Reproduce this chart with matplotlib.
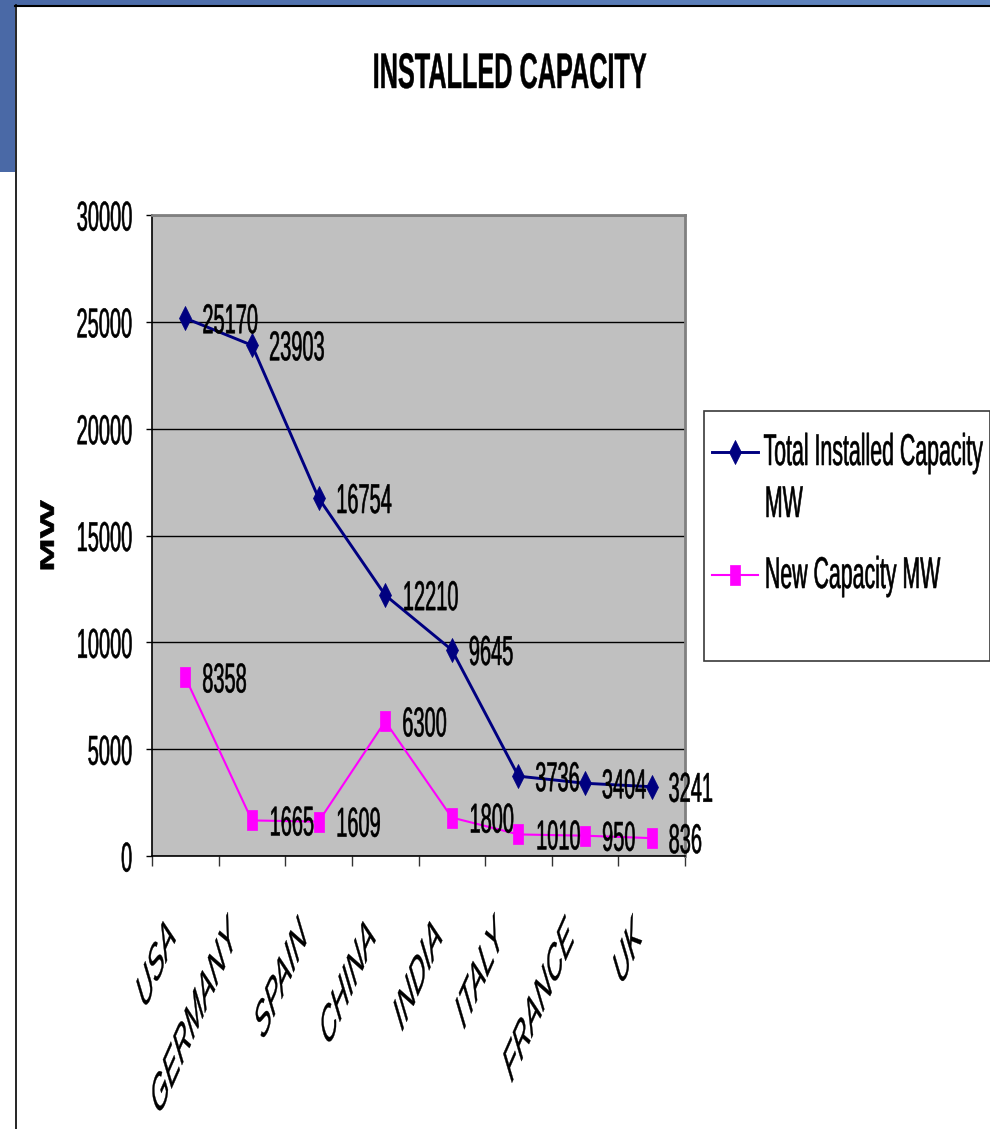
import matplotlib
matplotlib.use("Agg")
import matplotlib.pyplot as plt
import numpy as np
from matplotlib.patheffects import AbstractPathEffect
from matplotlib.transforms import Affine2D, ScaledTranslation
from matplotlib.path import Path
from matplotlib.patches import Rectangle
from matplotlib.colors import LinearSegmentedColormap

plt.rcParams['font.family'] = ['Liberation Sans', 'DejaVu Sans']

# ---- data ----
countries = ["USA", "GERMANY", "SPAIN", "CHINA", "INDIA", "ITALY", "FRANCE", "UK"]
total_mw = [25170, 23903, 16754, 12210, 9645, 3736, 3404, 3241]
new_mw = [8358, 1665, 1609, 6300, 1800, 1010, 950, 836]
y_ticks = [0, 5000, 10000, 15000, 20000, 25000, 30000]
series_names = ["Total Installed Capacity", "New Capacity MW"]

NAVY = "#000080"
MAGENTA = "#FF00FF"
SX = 0.48  # horizontal compression of the lettering
STROKE = 0.4


class Squeeze(AbstractPathEffect):
    """Draw text glyphs compressed horizontally about one edge of the ink,
    with a thin outline in the text colour to keep the strokes solid."""

    def __init__(self, sx=SX, pivot="left", stroke=STROKE):
        super().__init__()
        self.sx = sx
        self.pivot = pivot
        self.stroke = stroke

    def draw_path(self, renderer, gc, tpath, affine, rgbFace=None):
        ext = affine.transform_path(tpath).get_extents()
        x0 = {"left": ext.x0, "right": ext.x1,
              "center": 0.5 * (ext.x0 + ext.x1)}[self.pivot]
        aff = affine + Affine2D().translate(-x0, 0).scale(self.sx, 1).translate(x0, 0)
        if self.stroke and rgbFace is not None:
            gc2 = renderer.new_gc()
            gc2.copy_properties(gc)
            gc2.set_linewidth(self.stroke)
            gc2.set_foreground(rgbFace)
            gc2.set_joinstyle("round")
            renderer.draw_path(gc2, tpath, aff, rgbFace)
            gc2.restore()
        else:
            renderer.draw_path(gc, tpath, aff, rgbFace)


def squeeze(t, pivot="left", sx=SX, stroke=STROKE):
    t.set_path_effects([Squeeze(sx=sx, pivot=pivot, stroke=stroke)])
    return t


# narrow markers
diamond = Path([(0, 1), (0.5, 0), (0, -1), (-0.5, 0), (0, 1)],
               [Path.MOVETO, Path.LINETO, Path.LINETO, Path.LINETO, Path.CLOSEPOLY])
tall_rect = Path([(-0.5, -1), (0.5, -1), (0.5, 1), (-0.5, 1), (-0.5, -1)],
                 [Path.MOVETO, Path.LINETO, Path.LINETO, Path.LINETO, Path.CLOSEPOLY])
DIA_MS = 17.3
RECT_MS = 14.4

W, H = 990, 1129
fig = plt.figure(figsize=(W / 100, H / 100), dpi=100)
fig.patch.set_facecolor("white")

# ---- page background (pixel coordinates) ----
bg = fig.add_axes([0, 0, 1, 1], zorder=0)
band = LinearSegmentedColormap.from_list("band", ["#4A69A6", "#6388C1"])
bg.imshow(np.linspace(0, 1, 256)[None, :], extent=(0, W, 5, 0), aspect="auto", cmap=band)
bg.add_patch(Rectangle((0, 0), 15, 172, facecolor="#4A69A6", edgecolor="none"))
bg.plot([15.5, 15.5], [5, H], color="black", lw=1.2)
bg.plot([15, W], [5.5, 5.5], color="black", lw=1.5)
bg.set_xlim(0, W)
bg.set_ylim(H, 0)
bg.axis("off")

# ---- plot area ----
ax = fig.add_axes([152 / W, 1 - 856 / H, (685 - 152) / W, (856 - 215) / H], zorder=2)
ax.set_facecolor("#C0C0C0")
x = np.arange(len(countries))

ax.plot(x, total_mw, color=NAVY, lw=2.1, marker=diamond, ms=DIA_MS,
        mfc=NAVY, mec=NAVY, mew=0.5, zorder=3)
ax.plot(x, new_mw, color=MAGENTA, lw=1.5, marker=tall_rect, ms=RECT_MS,
        mfc=MAGENTA, mec=MAGENTA, mew=0.5, zorder=4)

for series in (total_mw, new_mw):
    for xi, v in zip(x, series):
        squeeze(ax.annotate(f"{v}", (xi, v), xytext=(16 * 0.72, -4 * 0.72),
                            textcoords="offset points", ha="left", va="center",
                            fontsize=30, zorder=6), "left")

ax.set_xlim(-0.5, len(countries) - 0.5)
ax.set_ylim(0, 30000)
ax.set_yticks(y_ticks)
ax.set_yticklabels([str(t) for t in y_ticks])
ax.tick_params(axis="y", length=4.3, width=1.0, pad=9.4, labelsize=30, color="black")
ax.set_xticks([])
ax.set_xticks(np.arange(-0.5, len(countries), 1), minor=True)
ax.tick_params(axis="x", which="minor", length=7.2, width=1.0, color="#333333")
ax.yaxis.grid(True, color="black", lw=1.0)
ax.set_axisbelow(True)
for side in ("top", "right"):
    ax.spines[side].set_color("#808080")
    ax.spines[side].set_linewidth(2.0)
for side in ("left", "bottom"):
    ax.spines[side].set_color("black")
    ax.spines[side].set_linewidth(1.2)

for lbl in ax.get_yticklabels():
    squeeze(lbl, "right")

# category labels
off = ScaledTranslation(-33 / 100, -57 / 100, fig.dpi_scale_trans)
for xi, name in zip(x, countries):
    squeeze(ax.text(xi, 0, name, transform=ax.get_xaxis_transform() + off,
                    rotation=45, rotation_mode="anchor", ha="right", va="top",
                    fontsize=36, style="italic", clip_on=False),
            "right", sx=0.44, stroke=0.25)

# ---- titles ----
squeeze(fig.text(509 / W, 1 - 75 / H, "INSTALLED CAPACITY", ha="center", va="center",
                 fontsize=36, fontweight="bold"), "center", sx=0.505, stroke=0.3)
squeeze(fig.text(50 / W, 1 - 536 / H, "MW", rotation=90, ha="center", va="center",
                 fontsize=29, fontweight="bold"), "center", stroke=0.5)

# ---- legend ----
lg = fig.add_axes([0, 0, 1, 1], zorder=3)
lg.set_xlim(0, W)
lg.set_ylim(H, 0)
lg.axis("off")
lg.add_patch(Rectangle((703.5, 410.5), 286, 250, facecolor="white",
                       edgecolor="#3A3A3A", lw=1.2))
lg.plot([712, 758], [452, 452], color=NAVY, lw=2.1)
lg.plot([735], [452], marker=diamond, ms=DIA_MS, color=NAVY, mew=0.5)
lg.plot([712, 758], [575, 575], color=MAGENTA, lw=1.5)
lg.plot([735], [575], marker=tall_rect, ms=RECT_MS, color=MAGENTA, mew=0.5)
squeeze(lg.text(763, 465, series_names[0], ha="left", va="baseline", fontsize=32))
squeeze(lg.text(763, 517, "MW", ha="left", va="baseline", fontsize=32))
squeeze(lg.text(763, 588, series_names[1], ha="left", va="baseline", fontsize=32))

fig.savefig("out.png", dpi=100)
